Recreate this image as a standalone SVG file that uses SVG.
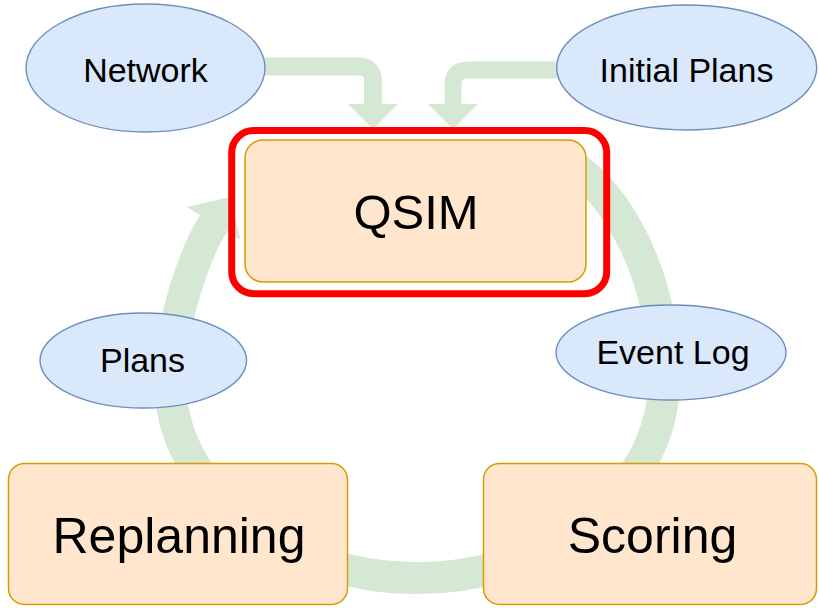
<svg xmlns="http://www.w3.org/2000/svg" width="819" height="608" viewBox="0 0 819 608">
  <defs>
    <style>
      .flow { fill: none; stroke: #d5e8d4; stroke-linecap: butt; stroke-linejoin: round; }
      .head { fill: #d5e8d4; stroke: none; }
      .data { fill: #dae8fc; stroke: #6c8ebf; stroke-width: 1.4; }
      .step { fill: #ffe6cc; stroke: #d79b00; stroke-width: 1.5; }
      .focus { fill: none; stroke: #ff0000; stroke-width: 7; }
      .label { font-family: "Liberation Sans", Arial, Helvetica, sans-serif; fill: #000000; text-anchor: middle; }
      .small { font-size: 34px; }
      .big { font-size: 50px; }
    </style>
  </defs>
  <rect width="819" height="608" fill="#ffffff"/>

  <!-- connectors: iteration loop and input feeds -->
  <g id="connectors">
    <!-- loop: QSIM -> Scoring -> Replanning -> QSIM -->
    <path class="flow" stroke-width="32" d="M560,158 C605,180 664,260 664,380 C664,489 553,578 417,578 C281,578 170,489 170,380 C170,320 197,249 213.6,223.4"/>
    <polygon class="head" points="187,207 240.5,239.8 230,197"/>
    <!-- Network -> QSIM -->
    <path class="flow" stroke-width="18" d="M262,66.5 H358 Q373,66.5 373,81.5 V105"/>
    <polygon class="head" points="348,104 398,104 373,129"/>
    <!-- Initial Plans -> QSIM -->
    <path class="flow" stroke-width="17" d="M560,70 H468 Q453,70 453,85 V105"/>
    <polygon class="head" points="428,104 478,104 453,129"/>
  </g>

  <g id="network">
    <ellipse class="data" cx="145.5" cy="68" rx="119.5" ry="64"/>
    <text class="label small" x="145.5" y="81.5">Network</text>
  </g>

  <g id="initial-plans">
    <ellipse class="data" cx="686.7" cy="67.5" rx="130" ry="62.5"/>
    <text class="label small" x="686.5" y="81.5">Initial Plans</text>
  </g>

  <g id="qsim">
    <rect class="focus" x="231.7" y="130.5" width="375" height="163.2" rx="22" ry="22"/>
    <rect class="step" x="245" y="140" width="341" height="142" rx="18" ry="18"/>
    <text class="label" font-size="49" x="416" y="229">QSIM</text>
  </g>

  <g id="event-log">
    <ellipse class="data" cx="671" cy="352.5" rx="115" ry="47.5"/>
    <text class="label small" x="673" y="364">Event Log</text>
  </g>

  <g id="plans">
    <ellipse class="data" cx="143.3" cy="360.5" rx="103.3" ry="47.5"/>
    <text class="label small" x="142.5" y="372">Plans</text>
  </g>

  <g id="replanning">
    <rect class="step" x="8.5" y="463.5" width="339" height="141" rx="16" ry="16"/>
    <text class="label big" x="179" y="553">Replanning</text>
  </g>

  <g id="scoring">
    <rect class="step" x="483.5" y="463.5" width="333" height="141" rx="16" ry="16"/>
    <text class="label big" x="652.5" y="553">Scoring</text>
  </g>
</svg>
